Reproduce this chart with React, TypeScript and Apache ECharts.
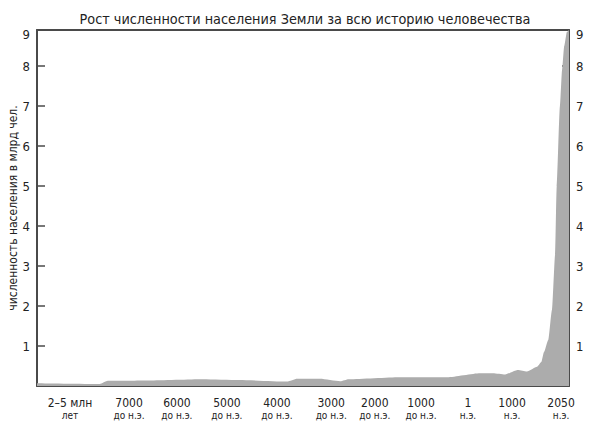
import * as echarts from 'echarts'
import { useEffect, useRef } from 'react'

const chartTitle = 'Рост численности населения Земли за всю историю человечества'
const yAxisName = 'численность населения в млрд чел.'

/** положение подписей по оси X (в % ширины поля графика) — шкала неравномерная */
const xLabelPos = [6.2, 17.3, 26.3, 35.7, 45.1, 55.3, 63.5, 72.2, 81.0, 89.3, 98.5]
const xLabelTop = ['2–5 млн', '7000', '6000', '5000', '4000', '3000', '2000', '1000', '1', '1000', '2050']
const xLabelBottom = ['лет', 'до н.э.', 'до н.э.', 'до н.э.', 'до н.э.', 'до н.э.', 'до н.э.', 'до н.э.', 'н.э.', 'н.э.', 'н.э.']

/** деления по оси Y; подпись «9» стоит у самого верха рамки */
const yTickValues = [1, 2, 3, 4, 5, 6, 7, 8]
const yMax = 8.9
const yTopLabelAt = 8.8

/** профиль численности (млрд чел.) по той же горизонтальной шкале */
const popX = [0, 11.8, 13.3, 21, 31.2, 38, 47, 48.9, 53.2, 57, 58.6, 68.2, 77.1, 83.3, 85.7, 88, 90.4, 92.1, 94, 94.8, 95.3, 96.1, 96.8, 97.4, 97.7, 98.3, 98.7, 99.1, 99.6, 100]
const popY = [0.07, 0.05, 0.13, 0.14, 0.17, 0.15, 0.11, 0.18, 0.18, 0.12, 0.17, 0.22, 0.22, 0.32, 0.32, 0.29, 0.4, 0.36, 0.48, 0.6, 0.85, 1.15, 1.9, 3.3, 5.0, 7.0, 7.9, 8.5, 8.85, 8.9]

const font = '"Liberation Sans Narrow", "DejaVu Sans Condensed", "Liberation Sans", Arial, sans-serif'
const ink = '#222222'
const frame = '#4a4a4a'

export default function App() {
  const ref = useRef<HTMLDivElement>(null)

  useEffect(() => {
    document.body.style.margin = '0'
    if (!ref.current) return
    const chart = echarts.init(ref.current, null, { renderer: 'svg' })

    const yLabelValues = [...yTickValues, yTopLabelAt]
    const yLabelFmt = (v: number) => (v === yTopLabelAt ? '9' : String(v))
    const xLabelFmt = (v: number) => {
      const i = xLabelPos.findIndex((p) => Math.abs(p - v) < 1e-6)
      if (i < 0) return ''
      return `{a|${xLabelTop[i]}}\n{b|${xLabelBottom[i]}}`
    }

    const frameLine = { show: true, onZero: false, lineStyle: { color: frame, width: 2 } }

    chart.setOption({
      animation: false,
      textStyle: { fontFamily: font, color: ink },
      title: {
        text: chartTitle,
        left: 300,
        top: 7,
        textAlign: 'center',
        textStyle: { fontFamily: font, fontSize: 14.3, fontWeight: 'normal', color: ink },
      },
      grid: {
        left: 37,
        right: 23,
        top: 30,
        bottom: 44,
        outerBoundsMode: 'none',
        containLabel: false,
      },
      xAxis: [
        {
          type: 'value',
          min: 0,
          max: 100,
          splitLine: { show: false },
          axisLine: frameLine,
          axisTick: { show: false },
          axisLabel: {
            customValues: xLabelPos,
            formatter: xLabelFmt,
            margin: 11,
            color: ink,
            rich: {
              a: { fontFamily: font, fontSize: 12, color: ink, lineHeight: 12, align: 'center' },
              b: { fontFamily: font, fontSize: 10, color: ink, lineHeight: 12, align: 'center' },
            },
          },
        },
        {
          // верхняя сторона рамки
          type: 'value',
          position: 'top',
          min: 0,
          max: 100,
          splitLine: { show: false },
          axisLine: frameLine,
          axisTick: { show: false },
          axisLabel: { show: false },
        },
      ],
      yAxis: [
        {
          type: 'value',
          min: 0,
          max: yMax,
          position: 'left',
          name: yAxisName,
          nameLocation: 'middle',
          nameGap: 18,
          nameMoveOverlap: false,
          nameTextStyle: { fontFamily: font, fontSize: 12, color: ink },
          splitLine: { show: false },
          axisLine: frameLine,
          axisTick: {
            show: true,
            inside: true,
            length: 8,
            customValues: yTickValues,
            lineStyle: { color: frame, width: 1.5 },
          },
          axisLabel: {
            customValues: yLabelValues,
            formatter: yLabelFmt,
            margin: 7,
            fontSize: 13,
            color: ink,
          },
        },
        {
          type: 'value',
          min: 0,
          max: yMax,
          position: 'right',
          splitLine: { show: false },
          axisLine: frameLine,
          axisTick: {
            show: true,
            inside: true,
            length: 7,
            customValues: yTickValues,
            lineStyle: { color: frame, width: 1.5 },
          },
          axisLabel: {
            customValues: yLabelValues,
            formatter: yLabelFmt,
            margin: 7,
            fontSize: 13,
            color: ink,
          },
        },
      ],
      series: [
        {
          type: 'line',
          xAxisIndex: 0,
          yAxisIndex: 0,
          data: popX.map((x, i) => [x, popY[i]]),
          showSymbol: false,
          smooth: 0.2,
          smoothMonotone: 'x',
          lineStyle: { width: 0 },
          areaStyle: { color: '#acacac', opacity: 1 },
          z: 1,
        },
      ],
    })

    return () => chart.dispose()
  }, [])

  return <div ref={ref} style={{ width: 592, height: 430 }} />
}
